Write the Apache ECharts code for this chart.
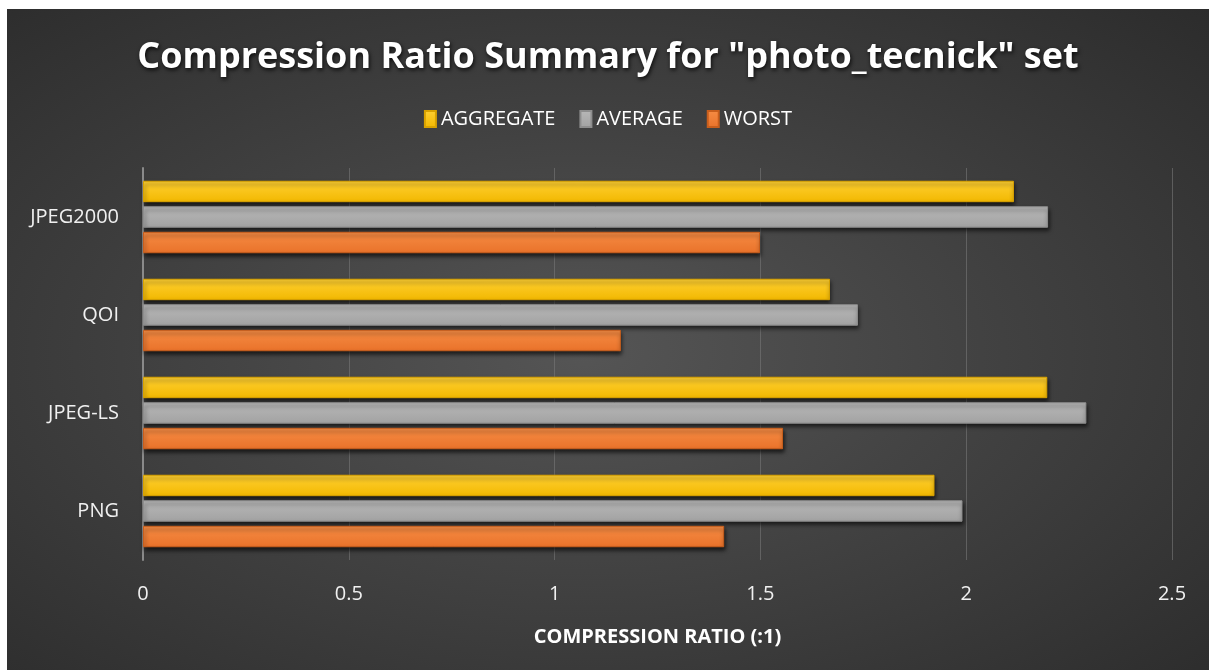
<!DOCTYPE html>
<html>
<head>
<meta charset="utf-8">
<script src="https://cdn.jsdelivr.net/npm/echarts@6/dist/echarts.min.js"></script>
<style>
    html, body { margin: 0; padding: 0; background: #ffffff; }
    #myCharts {
        position: absolute;
        left: 7px;
        top: 9px;
        width: 1202px;
        height: 661px;
        background: radial-gradient(ellipse at 48% 52%, #555555 0%, #444444 40%, #2c2c2c 100%);
    }
</style>
</head>
<body>
<div id="myCharts"></div>
<script>
    // 数据
    const categories = ['JPEG2000', 'QOI', 'JPEG-LS', 'PNG'];
    const aggregate = [2.116, 1.669, 2.197, 1.923];
    const average = [2.199, 1.737, 2.292, 1.991];
    const worst = [1.499, 1.161, 1.555, 1.412];
    const xTicks = [0, 0.5, 1, 1.5, 2, 2.5];

    const font = '"Open Sans", "Liberation Sans", sans-serif';

    function grad(top, bottom) {
        return new echarts.graphic.LinearGradient(0, 0, 0, 1, [
            {offset: 0, color: top},
            {offset: 1, color: bottom}
        ]);
    }

    function barSeries(name, data, top, bottom, border) {
        return {
            name: name,
            type: 'bar',
            data: data,
            barGap: '19%',
            barCategoryGap: '26%',
            animation: false,
            itemStyle: {
                color: grad(top, bottom),
                borderColor: border,
                borderWidth: 1,
                shadowColor: 'rgba(0, 0, 0, 0.65)',
                shadowBlur: 4,
                shadowOffsetX: 1,
                shadowOffsetY: 3
            }
        };
    }

    const myCharts = echarts.init(document.getElementById('myCharts'));
    let options = {
        title: {
            text: 'Compression Ratio Summary for "photo_tecnick" set',
            left: 'center',
            top: 26,
            textStyle: {
                color: '#ffffff',
                fontFamily: font,
                fontWeight: 'bold',
                fontSize: 36,
                textShadowColor: 'rgba(0,0,0,0.8)',
                textShadowBlur: 4,
                textShadowOffsetX: 1,
                textShadowOffsetY: 2
            }
        },
        legend: {
            top: 95,
            left: 'center',
            itemWidth: 11,
            itemHeight: 16,
            itemGap: 24,
            icon: 'rect',
            textStyle: {
                color: '#ffffff',
                fontFamily: font,
                fontSize: 20,
                padding: [0, 0, 0, 0]
            },
            data: ['AGGREGATE', 'AVERAGE', 'WORST']
        },
        grid: {
            left: 136,
            right: 37,
            top: 159,
            bottom: 110,
            containLabel: false
        },
        xAxis: {
            type: 'value',
            min: 0,
            max: 2.5,
            interval: 0.5,
            name: 'COMPRESSION RATIO (:1)',
            nameLocation: 'middle',
            nameGap: 67,
            nameTextStyle: {
                color: '#ffffff',
                fontFamily: font,
                fontWeight: 'bold',
                fontSize: 20
            },
            axisLine: {show: false},
            axisTick: {show: false},
            axisLabel: {
                color: '#f0f0f0',
                fontFamily: font,
                fontSize: 20,
                margin: 24,
                formatter: function (v) {
                    return xTicks.indexOf(v) >= 0 ? String(v) : '';
                }
            },
            splitLine: {
                lineStyle: {color: 'rgba(120,120,120,0.6)', width: 1}
            }
        },
        yAxis: {
            type: 'category',
            data: categories,
            inverse: true,
            axisLine: {show: true, lineStyle: {color: '#8a8a8a', width: 2}},
            axisTick: {show: false},
            axisLabel: {
                color: '#f0f0f0',
                fontFamily: font,
                fontSize: 20,
                margin: 24
            }
        },
        series: [
            barSeries('AGGREGATE', aggregate, '#ffd033', '#f2b800', '#d9a200'),
            barSeries('AVERAGE', average, '#b8b8b8', '#a2a2a2', '#8e8e8e'),
            barSeries('WORST', worst, '#f68c44', '#e9722a', '#c85e1c')
        ]
    };
    myCharts.setOption(options);
</script>
</body>
</html>
